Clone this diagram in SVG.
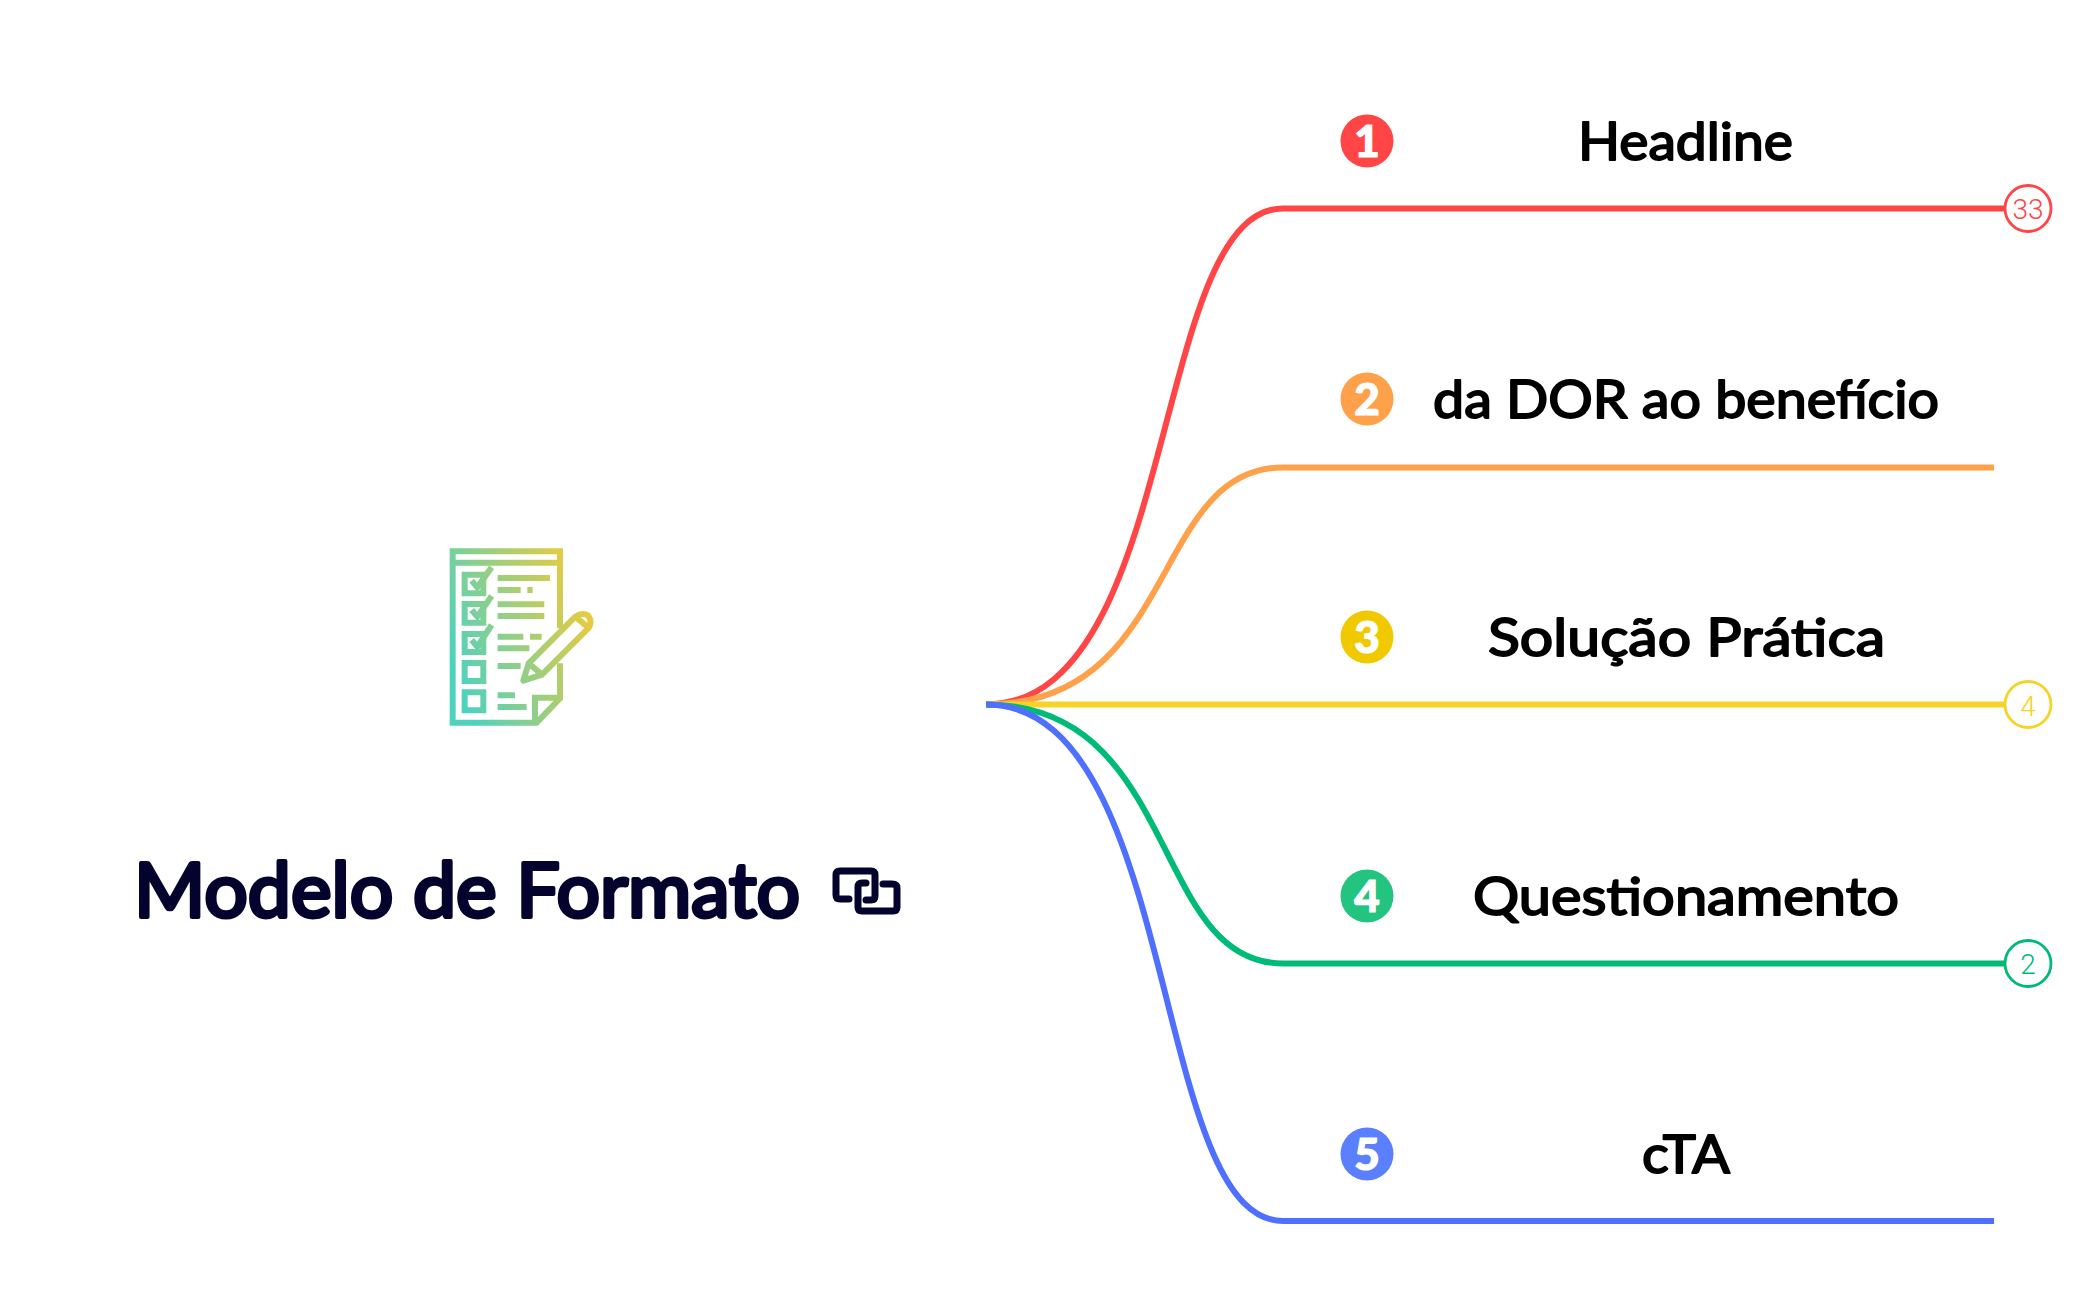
<svg xmlns="http://www.w3.org/2000/svg" width="2098" height="1300" viewBox="0 0 2098 1300">
<style>
.br{fill:none;stroke-width:6}
.t{font-family:"Lato","Noto Sans",sans-serif;font-size:53px;font-weight:400;fill:#000;stroke:#000;stroke-width:1.9;stroke-linejoin:round}
.n{font-family:"Lato","Liberation Sans",sans-serif;font-size:44px;font-weight:900;fill:#fff;stroke:#fff;stroke-width:1.2;text-anchor:middle}
.c{font-family:"Roboto","Liberation Sans",sans-serif;font-size:28px;font-weight:300;text-anchor:middle}
.ic{fill:none;stroke:url(#g);stroke-width:18}
.lk{fill:none;stroke:#03032e;stroke-width:7;stroke-linecap:round}
</style>
<defs>
<linearGradient id="g" gradientUnits="userSpaceOnUse" x1="98" y1="400" x2="520" y2="250">
<stop offset="0" stop-color="#4fd2bd"/><stop offset="1" stop-color="#eccb3c"/>
</linearGradient>
<filter id="soft" x="-5%" y="-5%" width="110%" height="110%"><feGaussianBlur stdDeviation="2"/></filter>
</defs>
<rect width="2098" height="1300" fill="#fff"/>
<g id="connectors">
<path class="br" stroke="#ff4545" d="M986 704.5C1180 704.5 1150 208.5 1283 208.5H2004"/>
<path class="br" stroke="#ffa14a" d="M986 704.5C1180 704.5 1150 467.5 1283 467.5H1994"/>
<path class="br" stroke="#f5d327" d="M986 704.5H2004"/>
<path class="br" stroke="#00bb78" d="M986 704.5C1180 704.5 1150 963.5 1283 963.5H2004"/>
<path class="br" stroke="#4f70ff" d="M986 704.5C1180 704.5 1150 1221 1283 1221H1994"/>
</g>
<g id="root">
<g id="root-icon" transform="translate(420 530) scale(.3333)" filter="url(#soft)">
<path class="ic" d="M420 295V64H98V578H350L420 505V400M98 98H420M345 578V503H420"/>
<path class="ic" d="M134 134H190V190H134ZM134 222H190V278H134ZM134 312H190V366H134ZM134 399H190V453H134ZM134 487H190V541H134Z"/>
<path class="ic" d="M155 152L172 172L215 112M155 240L172 260L215 198M155 330L172 350L215 285"/>
<path class="ic" d="M233 144H390M233 180H302M322 180H338M233 223H373M233 258H373M233 320H310M330 320H365M233 355H328M233 408H302M233 496H285M233 531H320"/>
<path class="ic" stroke-linejoin="round" d="M310 452L326 400L466 260Q486 246 504 256Q518 275 506 294L366 434ZM326 400L366 434M466 260L506 294"/>
</g>
<text x="134" y="916.500" textLength="666" lengthAdjust="spacingAndGlyphs" style="font-family:Lato,'Noto Sans',sans-serif;font-size:76px;font-weight:400;fill:#03032e;stroke:#03032e;stroke-width:4;stroke-linejoin:round">Modelo de Formato</text>
<g id="root-link">
<path class="lk" d="M849 899H840Q836 899 836 895V875Q836 871 840 871H871Q875 871 875 875V896Q875 900 871 900H866"/>
<path class="lk" d="M883 884H892Q897 884 897 888V907Q897 911 893 911H862Q858 911 858 907V887Q858 883 862 883H866"/>
</g>
</g>
<g id="node-1"><circle cx="1367" cy="141" r="26.5" fill="#ff4545"/><text class="n" x="1367" y="156.500">1</text><text class="t" x="1578" y="159.500" textLength="215" lengthAdjust="spacingAndGlyphs">Headline</text></g>
<g id="node-2"><circle cx="1367" cy="399" r="26.5" fill="#ffa14a"/><text class="n" x="1367" y="414.500">2</text><text class="t" x="1433" y="418" textLength="506" lengthAdjust="spacingAndGlyphs">da DOR ao benefício</text></g>
<g id="node-3"><circle cx="1367" cy="637" r="26.5" fill="#f0c900"/><text class="n" x="1367" y="652.500">3</text><text class="t" x="1488" y="656" textLength="397" lengthAdjust="spacingAndGlyphs">Solução Prática</text></g>
<g id="node-4"><circle cx="1367" cy="896" r="26.5" fill="#22c47f"/><text class="n" x="1367" y="911.500">4</text><text class="t" x="1473" y="915" textLength="426" lengthAdjust="spacingAndGlyphs">Questionamento</text></g>
<g id="node-5"><circle cx="1367" cy="1154" r="26.5" fill="#5a7fff"/><text class="n" x="1367" y="1169.500">5</text><text class="t" x="1642" y="1173" textLength="88" lengthAdjust="spacingAndGlyphs">cTA</text></g>
<g id="count-1"><circle cx="2028" cy="208.500" r="23" fill="#fff" stroke="#ff4545" stroke-width="2.8"/><text class="c" x="2028" y="218.500" fill="#ff4545">33</text></g>
<g id="count-3"><circle cx="2028" cy="704.500" r="23" fill="#fff" stroke="#f5d327" stroke-width="2.8"/><text class="c" x="2028" y="716" fill="#f5d327">4</text></g>
<g id="count-4"><circle cx="2028" cy="963.500" r="23" fill="#fff" stroke="#00bb78" stroke-width="2.8"/><text class="c" x="2028" y="974" fill="#00bb78">2</text></g>
</svg>
